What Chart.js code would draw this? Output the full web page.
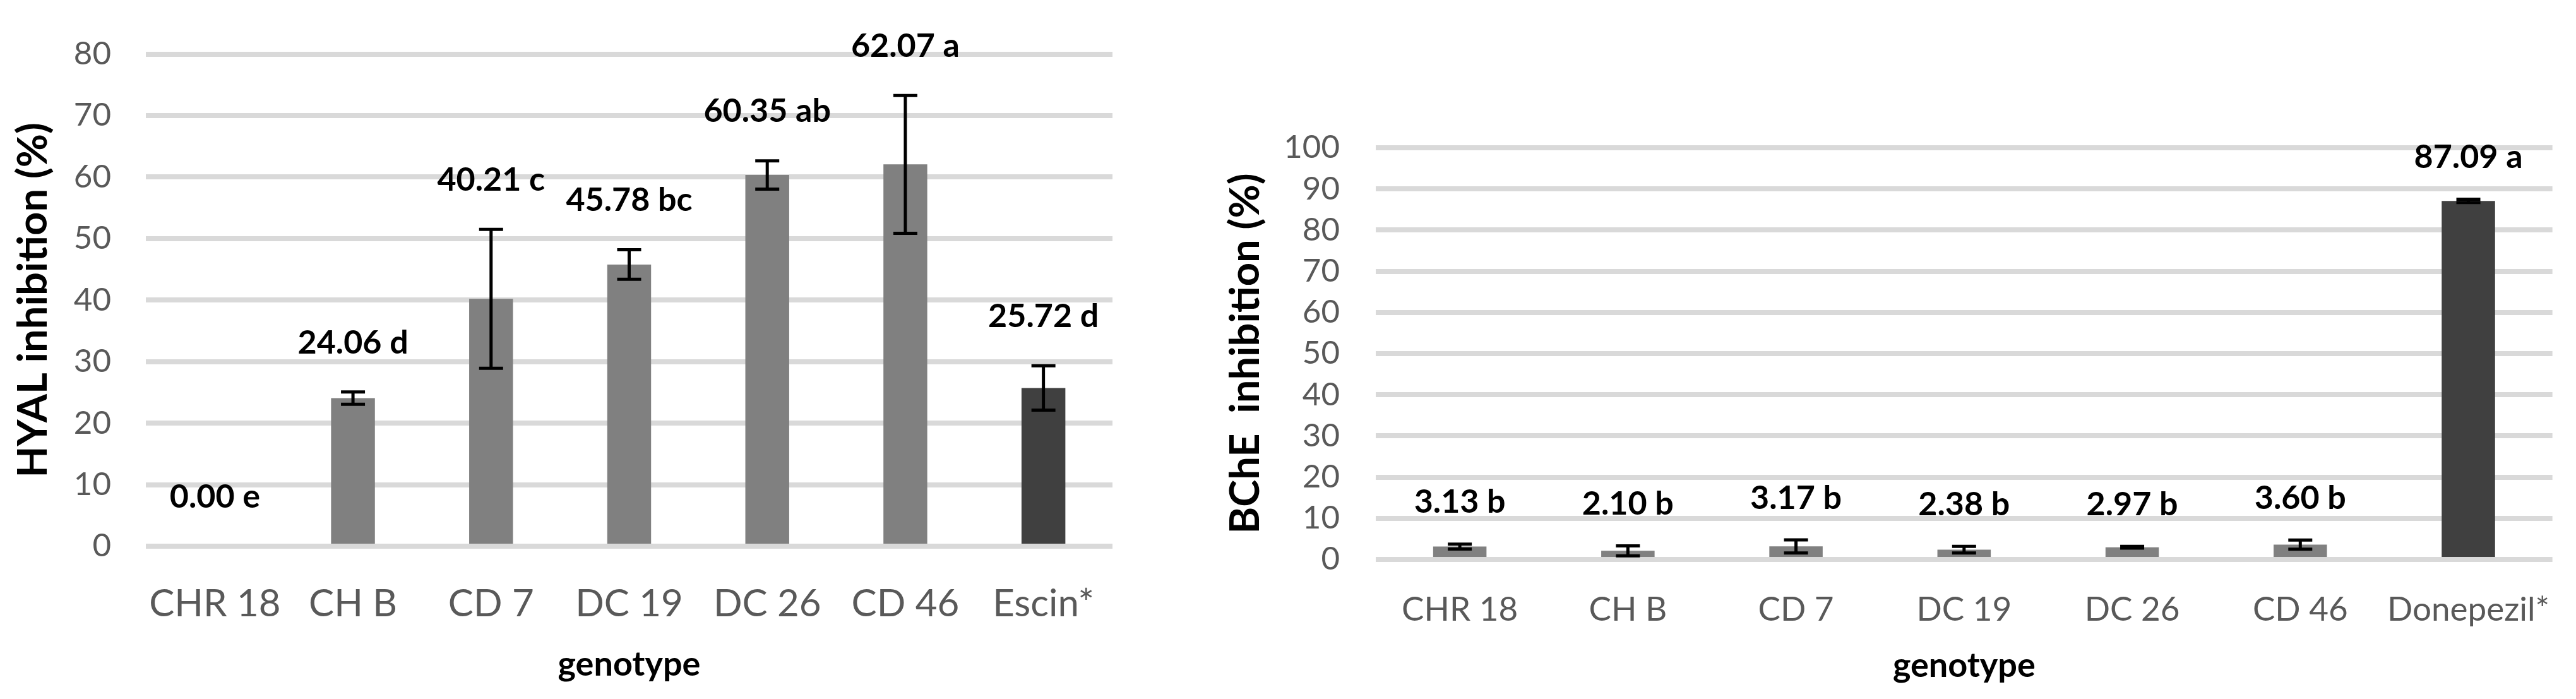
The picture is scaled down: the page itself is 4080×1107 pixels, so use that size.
<!DOCTYPE html>
<html>
<head>
<meta charset="utf-8">
<script src="https://cdn.jsdelivr.net/npm/chart.js@4.4.0/dist/chart.umd.min.js"></script>
<style>
  body { margin: 0; background: #fff; width: 4080px; height: 1107px; position: relative; overflow: hidden; }
  canvas { position: absolute; top: 0; }
  #hyalChart { left: 0; }
  #bcheChart { left: 1850px; }
</style>
</head>
<body>
<canvas id="hyalChart" width="1800" height="1107"></canvas>
<canvas id="bcheChart" width="2230" height="1107"></canvas>
<script>
// HYAL inhibition (left)
const hyalLabels = ['CHR 18', 'CH B', 'CD 7', 'DC 19', 'DC 26', 'CD 46', 'Escin*'];
const hyalValues = [0.00, 24.06, 40.21, 45.78, 60.35, 62.07, 25.72];
const hyalErrors = [0, 1.0, 11.3, 2.4, 2.3, 11.2, 3.6];
const hyalLetters = ['e', 'd', 'c', 'bc', 'ab', 'a', 'd'];
const hyalTicks = [0, 10, 20, 30, 40, 50, 60, 70, 80];

// BChE inhibition (right)
const bcheLabels = ['CHR 18', 'CH B', 'CD 7', 'DC 19', 'DC 26', 'CD 46', 'Donepezil*'];
const bcheValues = [3.13, 2.10, 3.17, 2.38, 2.97, 3.60, 87.09];
const bcheErrors = [0.6, 1.2, 1.6, 0.8, 0.2, 1.1, 0.4];
const bcheLetters = ['b', 'b', 'b', 'b', 'b', 'b', 'a'];
const bcheTicks = [0, 10, 20, 30, 40, 50, 60, 70, 80, 90, 100];

const FONT = 'Lato, "Open Sans", sans-serif';

// last bar is the reference drug -> darker
function barColors(labels) {
  return labels.map((l, i) => i === labels.length - 1 ? '#404040' : '#808080');
}

// error bars + value/letter labels
const errorBars = {
  id: 'errorBars',
  afterDatasetsDraw(chart, args, opts) {
    const { ctx } = chart;
    const y = chart.scales.y;
    const meta = chart.getDatasetMeta(0);
    const values = chart.data.datasets[0].data;
    ctx.save();
    meta.data.forEach((bar, i) => {
      const v = values[i], e = opts.errors[i];
      const top = y.getPixelForValue(v + e);
      if (e > 0) {
        const bot = y.getPixelForValue(v - e);
        ctx.strokeStyle = '#000';
        ctx.lineWidth = 5;
        ctx.beginPath();
        ctx.moveTo(bar.x, top); ctx.lineTo(bar.x, bot);
        ctx.moveTo(bar.x - 19, top); ctx.lineTo(bar.x + 19, top);
        ctx.moveTo(bar.x - 19, bot); ctx.lineTo(bar.x + 19, bot);
        ctx.stroke();
      }
      ctx.fillStyle = '#000';
      ctx.font = 'bold 52px ' + FONT;
      ctx.textAlign = 'center';
      ctx.textBaseline = 'middle';
      ctx.fillText(v.toFixed(2) + ' ' + opts.letters[i], bar.x, top - opts.offset);
    });
    ctx.restore();
  }
};

function makeChart(id, cfg) {
  return new Chart(document.getElementById(id), {
    type: 'bar',
    data: {
      labels: cfg.labels,
      datasets: [{
        data: cfg.values,
        backgroundColor: barColors(cfg.labels),
        barPercentage: 0.635,
        categoryPercentage: 0.5
      }]
    },
    options: {
      responsive: false,
      animation: false,
      events: [],
      layout: { padding: cfg.padding },
      plugins: {
        legend: { display: false },
        tooltip: { enabled: false },
        errorBars: { errors: cfg.errors, letters: cfg.letters, offset: cfg.labelOffset }
      },
      scales: {
        x: {
          grid: { display: false },
          border: { display: false },
          ticks: { color: '#595959', font: { family: FONT, size: cfg.xTickSize }, padding: cfg.xTickPad, maxRotation: 0 },
          title: { display: true, text: 'genotype', color: '#000', font: { family: FONT, size: 54, weight: 'bold' }, padding: { top: 0, bottom: cfg.xTitlePad } },
          afterFit: s => { s.height = cfg.xHeight; }
        },
        y: {
          min: 0,
          max: cfg.ticks[cfg.ticks.length - 1],
          afterBuildTicks: s => { s.ticks = cfg.ticks.map(v => ({ value: v })); },
          grid: { color: '#d9d9d9', lineWidth: 8, drawTicks: false },
          border: { display: false },
          ticks: { color: '#595959', font: { family: FONT, size: 51 }, padding: cfg.yTickPad },
          title: { display: true, text: cfg.yTitle, color: '#000', font: { family: FONT, size: 65, weight: 'bold' }, padding: { top: cfg.yTitlePad, bottom: 0 } },
          afterFit: s => { s.width = cfg.yWidth; }
        }
      }
    },
    plugins: [errorBars]
  });
}

makeChart('hyalChart', {
  labels: hyalLabels, values: hyalValues, errors: hyalErrors, letters: hyalLetters, ticks: hyalTicks,
  yTitle: 'HYAL inhibition (%)',
  padding: { left: 0, right: 38, top: 64, bottom: 0 },
  xHeight: 242, yWidth: 231,
  xTickSize: 60, xTickPad: 48, xTitlePad: 22,
  yTickPad: 55, yTitlePad: 14,
  labelOffset: 78
});

makeChart('bcheChart', {
  labels: bcheLabels, values: bcheValues, errors: bcheErrors, letters: bcheLetters, ticks: bcheTicks,
  yTitle: 'BChE  inhibition (%)',
  padding: { left: 0, right: 28, top: 234, bottom: 0 },
  xHeight: 221, yWidth: 329,
  xTickSize: 53, xTickPad: 40, xTitlePad: 20,
  yTickPad: 57, yTitlePad: 84,
  labelOffset: 66
});
</script>
</body>
</html>
